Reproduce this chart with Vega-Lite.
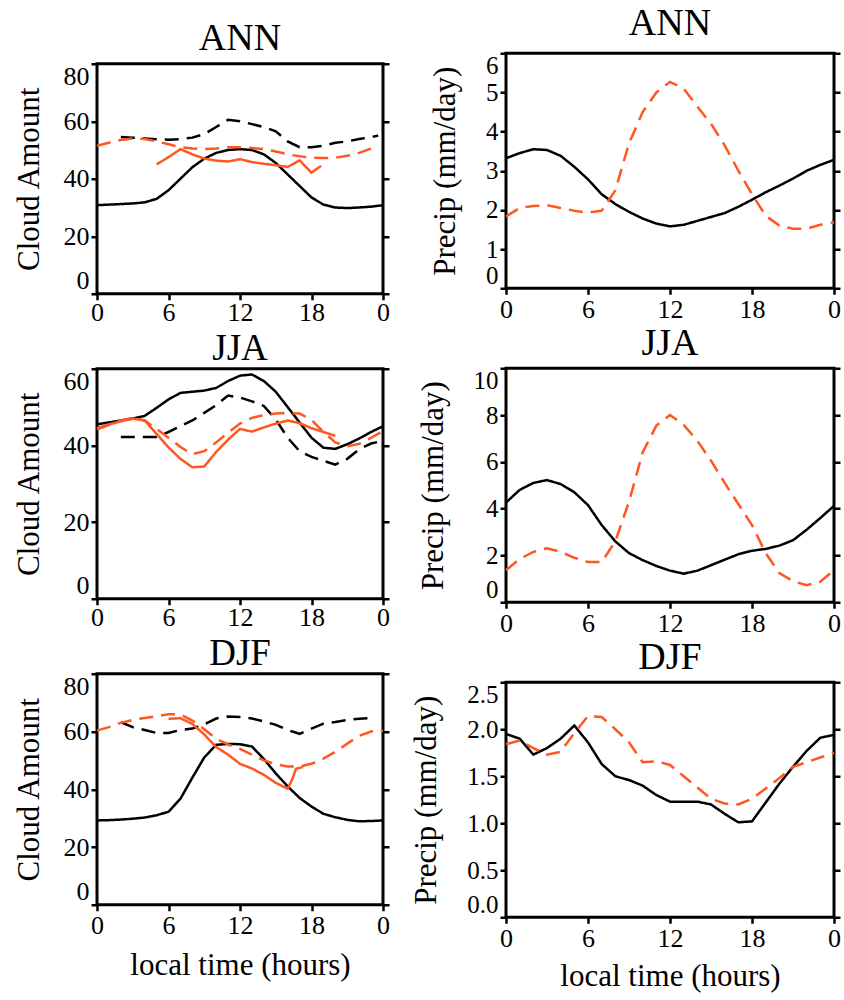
{
  "$schema": "https://vega.github.io/schema/vega-lite/v6.json",
  "padding": {"left": 11, "top": 3, "right": 4, "bottom": 2},
  "datasets": {
    "ann_cloud": [
      {"series":"black solid","hour":0,"value":30.8},{"series":"black solid","hour":1,"value":31},{"series":"black solid","hour":2,"value":31.2},{"series":"black solid","hour":3,"value":31.4},{"series":"black solid","hour":4,"value":31.8},{"series":"black solid","hour":5,"value":33},{"series":"black solid","hour":6,"value":36},{"series":"black solid","hour":7,"value":40},{"series":"black solid","hour":8,"value":44},{"series":"black solid","hour":9,"value":47},{"series":"black solid","hour":10,"value":49},{"series":"black solid","hour":11,"value":50},{"series":"black solid","hour":12,"value":50.3},{"series":"black solid","hour":13,"value":50},{"series":"black solid","hour":14,"value":48.5},{"series":"black solid","hour":15,"value":45.5},{"series":"black solid","hour":16,"value":41.5},{"series":"black solid","hour":17,"value":37.5},{"series":"black solid","hour":18,"value":33.5},{"series":"black solid","hour":19,"value":31},{"series":"black solid","hour":20,"value":30},{"series":"black solid","hour":21,"value":29.8},{"series":"black solid","hour":22,"value":30},{"series":"black solid","hour":23,"value":30.3},{"series":"black solid","hour":24,"value":30.8},
      {"series":"black dashed","hour":2,"value":54.5},{"series":"black dashed","hour":3,"value":54.3},{"series":"black dashed","hour":4,"value":54},{"series":"black dashed","hour":5,"value":53.7},{"series":"black dashed","hour":6,"value":53.6},{"series":"black dashed","hour":7,"value":53.8},{"series":"black dashed","hour":8,"value":54.3},{"series":"black dashed","hour":9,"value":55.5},{"series":"black dashed","hour":10,"value":58},{"series":"black dashed","hour":11,"value":60.5},{"series":"black dashed","hour":12,"value":60},{"series":"black dashed","hour":13,"value":59},{"series":"black dashed","hour":14,"value":58},{"series":"black dashed","hour":15,"value":56.5},{"series":"black dashed","hour":16,"value":53},{"series":"black dashed","hour":17,"value":51},{"series":"black dashed","hour":18,"value":51},{"series":"black dashed","hour":19,"value":51.5},{"series":"black dashed","hour":20,"value":52.5},{"series":"black dashed","hour":21,"value":53},{"series":"black dashed","hour":22,"value":53.8},{"series":"black dashed","hour":23,"value":54.5},{"series":"black dashed","hour":23.6,"value":55},
      {"series":"orange dashed","hour":0,"value":51.5},{"series":"orange dashed","hour":1,"value":52.5},{"series":"orange dashed","hour":2,"value":53.5},{"series":"orange dashed","hour":3,"value":54},{"series":"orange dashed","hour":4,"value":53.8},{"series":"orange dashed","hour":5,"value":53},{"series":"orange dashed","hour":6,"value":52},{"series":"orange dashed","hour":7,"value":51},{"series":"orange dashed","hour":8,"value":50.5},{"series":"orange dashed","hour":9,"value":50.3},{"series":"orange dashed","hour":10,"value":50.5},{"series":"orange dashed","hour":11,"value":51},{"series":"orange dashed","hour":12,"value":51},{"series":"orange dashed","hour":13,"value":50.7},{"series":"orange dashed","hour":14,"value":50.3},{"series":"orange dashed","hour":15,"value":49.5},{"series":"orange dashed","hour":16,"value":48.5},{"series":"orange dashed","hour":17,"value":47.8},{"series":"orange dashed","hour":18,"value":47.3},{"series":"orange dashed","hour":19,"value":47.2},{"series":"orange dashed","hour":20,"value":47.3},{"series":"orange dashed","hour":21,"value":48},{"series":"orange dashed","hour":22,"value":49},{"series":"orange dashed","hour":23,"value":50.5},{"series":"orange dashed","hour":23.5,"value":51.5},
      {"series":"orange solid","hour":5,"value":45},{"series":"orange solid","hour":6,"value":47.5},{"series":"orange solid","hour":7,"value":50.3},{"series":"orange solid","hour":8,"value":48.5},{"series":"orange solid","hour":9,"value":47},{"series":"orange solid","hour":10,"value":46.3},{"series":"orange solid","hour":11,"value":46},{"series":"orange solid","hour":12,"value":46.8},{"series":"orange solid","hour":13,"value":45.8},{"series":"orange solid","hour":14,"value":45.2},{"series":"orange solid","hour":15,"value":44.7},{"series":"orange solid","hour":16,"value":44.1},{"series":"orange solid","hour":17,"value":46.4},{"series":"orange solid","hour":18,"value":42.1},{"series":"orange solid","hour":18.8,"value":44.5}
    ],
    "ann_precip": [
      {"series":"black solid","hour":0,"value":3.32},{"series":"black solid","hour":1,"value":3.45},{"series":"black solid","hour":2,"value":3.55},{"series":"black solid","hour":3,"value":3.53},{"series":"black solid","hour":4,"value":3.38},{"series":"black solid","hour":5,"value":3.1},{"series":"black solid","hour":6,"value":2.78},{"series":"black solid","hour":7,"value":2.4},{"series":"black solid","hour":8,"value":2.15},{"series":"black solid","hour":9,"value":1.95},{"series":"black solid","hour":10,"value":1.78},{"series":"black solid","hour":11,"value":1.65},{"series":"black solid","hour":12,"value":1.58},{"series":"black solid","hour":13,"value":1.62},{"series":"black solid","hour":14,"value":1.72},{"series":"black solid","hour":15,"value":1.82},{"series":"black solid","hour":16,"value":1.92},{"series":"black solid","hour":17,"value":2.08},{"series":"black solid","hour":18,"value":2.26},{"series":"black solid","hour":19,"value":2.45},{"series":"black solid","hour":20,"value":2.62},{"series":"black solid","hour":21,"value":2.8},{"series":"black solid","hour":22,"value":3.0},{"series":"black solid","hour":23,"value":3.15},{"series":"black solid","hour":24,"value":3.28},
      {"series":"orange dashed","hour":0,"value":1.83},{"series":"orange dashed","hour":1,"value":2.05},{"series":"orange dashed","hour":2,"value":2.1},{"series":"orange dashed","hour":3,"value":2.12},{"series":"orange dashed","hour":4,"value":2.05},{"series":"orange dashed","hour":5,"value":1.98},{"series":"orange dashed","hour":6,"value":1.93},{"series":"orange dashed","hour":7,"value":1.98},{"series":"orange dashed","hour":8,"value":2.5},{"series":"orange dashed","hour":9,"value":3.7},{"series":"orange dashed","hour":10,"value":4.5},{"series":"orange dashed","hour":11,"value":5.0},{"series":"orange dashed","hour":12,"value":5.27},{"series":"orange dashed","hour":13,"value":5.1},{"series":"orange dashed","hour":14,"value":4.64},{"series":"orange dashed","hour":15,"value":4.2},{"series":"orange dashed","hour":16,"value":3.65},{"series":"orange dashed","hour":17,"value":3.0},{"series":"orange dashed","hour":18,"value":2.4},{"series":"orange dashed","hour":19,"value":1.85},{"series":"orange dashed","hour":20,"value":1.6},{"series":"orange dashed","hour":21,"value":1.52},{"series":"orange dashed","hour":22,"value":1.52},{"series":"orange dashed","hour":23,"value":1.62},{"series":"orange dashed","hour":24,"value":1.68}
    ],
    "jja_cloud": [
      {"series":"black solid","hour":0,"value":45.5},{"series":"black solid","hour":1,"value":46},{"series":"black solid","hour":2,"value":46.5},{"series":"black solid","hour":3,"value":47},{"series":"black solid","hour":4,"value":47.7},{"series":"black solid","hour":5,"value":49.8},{"series":"black solid","hour":6,"value":52},{"series":"black solid","hour":7,"value":53.7},{"series":"black solid","hour":8,"value":54},{"series":"black solid","hour":9,"value":54.3},{"series":"black solid","hour":10,"value":55},{"series":"black solid","hour":11,"value":56.8},{"series":"black solid","hour":12,"value":58.2},{"series":"black solid","hour":13,"value":58.5},{"series":"black solid","hour":14,"value":56.8},{"series":"black solid","hour":15,"value":54},{"series":"black solid","hour":16,"value":50},{"series":"black solid","hour":17,"value":46},{"series":"black solid","hour":18,"value":42},{"series":"black solid","hour":19,"value":39.4},{"series":"black solid","hour":20,"value":39.1},{"series":"black solid","hour":21,"value":40.3},{"series":"black solid","hour":22,"value":41.8},{"series":"black solid","hour":23,"value":43.5},{"series":"black solid","hour":24,"value":45},
      {"series":"black dashed","hour":2,"value":42.2},{"series":"black dashed","hour":3,"value":42.2},{"series":"black dashed","hour":4,"value":42.2},{"series":"black dashed","hour":5,"value":42.2},{"series":"black dashed","hour":6,"value":43.5},{"series":"black dashed","hour":7,"value":45},{"series":"black dashed","hour":8,"value":46.5},{"series":"black dashed","hour":9,"value":48.5},{"series":"black dashed","hour":10,"value":50.5},{"series":"black dashed","hour":11,"value":53},{"series":"black dashed","hour":12,"value":52.5},{"series":"black dashed","hour":13,"value":51.5},{"series":"black dashed","hour":14,"value":50.3},{"series":"black dashed","hour":15,"value":46.8},{"series":"black dashed","hour":16,"value":42},{"series":"black dashed","hour":17,"value":38.5},{"series":"black dashed","hour":18,"value":37},{"series":"black dashed","hour":19,"value":36},{"series":"black dashed","hour":20,"value":35},{"series":"black dashed","hour":21,"value":36.5},{"series":"black dashed","hour":22,"value":39},{"series":"black dashed","hour":23,"value":40.5},{"series":"black dashed","hour":23.7,"value":41},
      {"series":"orange dashed","hour":0,"value":44.2},{"series":"orange dashed","hour":1,"value":45.3},{"series":"orange dashed","hour":2,"value":46.5},{"series":"orange dashed","hour":3,"value":47.2},{"series":"orange dashed","hour":4,"value":46.5},{"series":"orange dashed","hour":5,"value":44.3},{"series":"orange dashed","hour":6,"value":42},{"series":"orange dashed","hour":7,"value":39.6},{"series":"orange dashed","hour":8,"value":37.7},{"series":"orange dashed","hour":9,"value":38.5},{"series":"orange dashed","hour":10,"value":40.8},{"series":"orange dashed","hour":11,"value":43.3},{"series":"orange dashed","hour":12,"value":45.7},{"series":"orange dashed","hour":13,"value":47.2},{"series":"orange dashed","hour":14,"value":47.9},{"series":"orange dashed","hour":15,"value":48.3},{"series":"orange dashed","hour":16,"value":48.5},{"series":"orange dashed","hour":17,"value":48.3},{"series":"orange dashed","hour":18,"value":46.7},{"series":"orange dashed","hour":19,"value":43.5},{"series":"orange dashed","hour":20,"value":40.8},{"series":"orange dashed","hour":21,"value":39.8},{"series":"orange dashed","hour":22,"value":40.4},{"series":"orange dashed","hour":23,"value":42},{"series":"orange dashed","hour":24,"value":43.7},
      {"series":"orange solid","hour":0,"value":44.5},{"series":"orange solid","hour":1,"value":45.5},{"series":"orange solid","hour":2,"value":46.3},{"series":"orange solid","hour":3,"value":47},{"series":"orange solid","hour":4,"value":46.5},{"series":"orange solid","hour":5,"value":43},{"series":"orange solid","hour":6,"value":39.5},{"series":"orange solid","hour":7,"value":36.5},{"series":"orange solid","hour":8,"value":34.3},{"series":"orange solid","hour":9,"value":34.5},{"series":"orange solid","hour":10,"value":38.3},{"series":"orange solid","hour":11,"value":41.5},{"series":"orange solid","hour":12,"value":44.3},{"series":"orange solid","hour":13,"value":43.6},{"series":"orange solid","hour":14,"value":44.7},{"series":"orange solid","hour":15,"value":45.7},{"series":"orange solid","hour":16,"value":46.5},{"series":"orange solid","hour":17,"value":45.8},{"series":"orange solid","hour":18,"value":44.5},{"series":"orange solid","hour":19,"value":43.5},{"series":"orange solid","hour":20,"value":42.5}
    ],
    "jja_precip": [
      {"series":"black solid","hour":0,"value":4.26},{"series":"black solid","hour":1,"value":4.8},{"series":"black solid","hour":2,"value":5.1},{"series":"black solid","hour":3,"value":5.22},{"series":"black solid","hour":4,"value":5.05},{"series":"black solid","hour":5,"value":4.7},{"series":"black solid","hour":6,"value":4.15},{"series":"black solid","hour":7,"value":3.3},{"series":"black solid","hour":8,"value":2.6},{"series":"black solid","hour":9,"value":2.1},{"series":"black solid","hour":10,"value":1.8},{"series":"black solid","hour":11,"value":1.55},{"series":"black solid","hour":12,"value":1.35},{"series":"black solid","hour":13,"value":1.22},{"series":"black solid","hour":14,"value":1.35},{"series":"black solid","hour":15,"value":1.58},{"series":"black solid","hour":16,"value":1.82},{"series":"black solid","hour":17,"value":2.05},{"series":"black solid","hour":18,"value":2.2},{"series":"black solid","hour":19,"value":2.28},{"series":"black solid","hour":20,"value":2.42},{"series":"black solid","hour":21,"value":2.65},{"series":"black solid","hour":22,"value":3.1},{"series":"black solid","hour":23,"value":3.6},{"series":"black solid","hour":24,"value":4.12},
      {"series":"orange dashed","hour":0,"value":1.37},{"series":"orange dashed","hour":1,"value":1.85},{"series":"orange dashed","hour":2,"value":2.15},{"series":"orange dashed","hour":3,"value":2.31},{"series":"orange dashed","hour":4,"value":2.15},{"series":"orange dashed","hour":5,"value":1.9},{"series":"orange dashed","hour":6,"value":1.72},{"series":"orange dashed","hour":7,"value":1.72},{"series":"orange dashed","hour":8,"value":2.6},{"series":"orange dashed","hour":9,"value":4.3},{"series":"orange dashed","hour":10,"value":6.4},{"series":"orange dashed","hour":11,"value":7.55},{"series":"orange dashed","hour":12,"value":8.0},{"series":"orange dashed","hour":13,"value":7.58},{"series":"orange dashed","hour":14,"value":6.9},{"series":"orange dashed","hour":15,"value":6.05},{"series":"orange dashed","hour":16,"value":5.1},{"series":"orange dashed","hour":17,"value":4.2},{"series":"orange dashed","hour":18,"value":3.3},{"series":"orange dashed","hour":19,"value":2.1},{"series":"orange dashed","hour":20,"value":1.25},{"series":"orange dashed","hour":21,"value":0.9},{"series":"orange dashed","hour":22,"value":0.73},{"series":"orange dashed","hour":23,"value":0.88},{"series":"orange dashed","hour":24,"value":1.37}
    ],
    "djf_cloud": [
      {"series":"black solid","hour":0,"value":29.2},{"series":"black solid","hour":1,"value":29.3},{"series":"black solid","hour":2,"value":29.5},{"series":"black solid","hour":3,"value":29.8},{"series":"black solid","hour":4,"value":30.2},{"series":"black solid","hour":5,"value":31},{"series":"black solid","hour":6,"value":32.2},{"series":"black solid","hour":7,"value":36.7},{"series":"black solid","hour":8,"value":44},{"series":"black solid","hour":9,"value":51},{"series":"black solid","hour":10,"value":55.4},{"series":"black solid","hour":11,"value":55.7},{"series":"black solid","hour":12,"value":55.6},{"series":"black solid","hour":13,"value":54.8},{"series":"black solid","hour":14,"value":50.5},{"series":"black solid","hour":15,"value":45.5},{"series":"black solid","hour":16,"value":41},{"series":"black solid","hour":17,"value":37},{"series":"black solid","hour":18,"value":34},{"series":"black solid","hour":19,"value":31.5},{"series":"black solid","hour":20,"value":30.3},{"series":"black solid","hour":21,"value":29.4},{"series":"black solid","hour":22,"value":28.9},{"series":"black solid","hour":23,"value":29},{"series":"black solid","hour":24,"value":29.2},
      {"series":"black dashed","hour":2,"value":63.2},{"series":"black dashed","hour":3,"value":61.5},{"series":"black dashed","hour":4,"value":60.5},{"series":"black dashed","hour":5,"value":59.5},{"series":"black dashed","hour":6,"value":59.5},{"series":"black dashed","hour":7,"value":60.5},{"series":"black dashed","hour":8,"value":61},{"series":"black dashed","hour":9,"value":62.5},{"series":"black dashed","hour":10,"value":64.5},{"series":"black dashed","hour":11,"value":65.2},{"series":"black dashed","hour":12,"value":65},{"series":"black dashed","hour":13,"value":64.5},{"series":"black dashed","hour":14,"value":63.5},{"series":"black dashed","hour":15,"value":62.3},{"series":"black dashed","hour":16,"value":60.5},{"series":"black dashed","hour":17,"value":59.2},{"series":"black dashed","hour":18,"value":61},{"series":"black dashed","hour":19,"value":62.7},{"series":"black dashed","hour":20,"value":63.3},{"series":"black dashed","hour":21,"value":64},{"series":"black dashed","hour":22,"value":64.4},{"series":"black dashed","hour":23,"value":64.7},
      {"series":"orange dashed","hour":0,"value":60.3},{"series":"orange dashed","hour":1,"value":61.5},{"series":"orange dashed","hour":2,"value":63},{"series":"orange dashed","hour":3,"value":64},{"series":"orange dashed","hour":4,"value":64.7},{"series":"orange dashed","hour":5,"value":65.3},{"series":"orange dashed","hour":6,"value":66},{"series":"orange dashed","hour":7,"value":65.9},{"series":"orange dashed","hour":8,"value":63.8},{"series":"orange dashed","hour":9,"value":60.8},{"series":"orange dashed","hour":10,"value":57.5},{"series":"orange dashed","hour":11,"value":55.5},{"series":"orange dashed","hour":12,"value":54},{"series":"orange dashed","hour":13,"value":52},{"series":"orange dashed","hour":14,"value":50},{"series":"orange dashed","hour":15,"value":48.7},{"series":"orange dashed","hour":16,"value":47.9},{"series":"orange dashed","hour":17,"value":47.9},{"series":"orange dashed","hour":18,"value":48.8},{"series":"orange dashed","hour":19,"value":50.6},{"series":"orange dashed","hour":20,"value":53},{"series":"orange dashed","hour":21,"value":55.8},{"series":"orange dashed","hour":22,"value":58.5},{"series":"orange dashed","hour":23,"value":60},{"series":"orange dashed","hour":24,"value":60.3},
      {"series":"orange solid","hour":6,"value":64.4},{"series":"orange solid","hour":7,"value":64.6},{"series":"orange solid","hour":8,"value":62.6},{"series":"orange solid","hour":9,"value":59},{"series":"orange solid","hour":10,"value":54.6},{"series":"orange solid","hour":11,"value":52},{"series":"orange solid","hour":12,"value":48.8},{"series":"orange solid","hour":13,"value":47.2},{"series":"orange solid","hour":14,"value":45},{"series":"orange solid","hour":15,"value":42.2},{"series":"orange solid","hour":16,"value":40.2},{"series":"orange solid","hour":16.4,"value":43.6},{"series":"orange solid","hour":16.7,"value":47.1},{"series":"orange solid","hour":17.3,"value":47.7}
    ],
    "djf_precip": [
      {"series":"black solid","hour":0,"value":1.95},{"series":"black solid","hour":1,"value":1.9},{"series":"black solid","hour":2,"value":1.73},{"series":"black solid","hour":3,"value":1.8},{"series":"black solid","hour":4,"value":1.9},{"series":"black solid","hour":5,"value":2.04},{"series":"black solid","hour":6,"value":1.86},{"series":"black solid","hour":7,"value":1.63},{"series":"black solid","hour":8,"value":1.5},{"series":"black solid","hour":9,"value":1.46},{"series":"black solid","hour":10,"value":1.4},{"series":"black solid","hour":11,"value":1.3},{"series":"black solid","hour":12,"value":1.23},{"series":"black solid","hour":13,"value":1.23},{"series":"black solid","hour":14,"value":1.23},{"series":"black solid","hour":15,"value":1.2},{"series":"black solid","hour":16,"value":1.1},{"series":"black solid","hour":17,"value":1.01},{"series":"black solid","hour":18,"value":1.02},{"series":"black solid","hour":19,"value":1.22},{"series":"black solid","hour":20,"value":1.42},{"series":"black solid","hour":21,"value":1.6},{"series":"black solid","hour":22,"value":1.77},{"series":"black solid","hour":23,"value":1.91},{"series":"black solid","hour":24,"value":1.94},
      {"series":"orange dashed","hour":0,"value":1.84},{"series":"orange dashed","hour":1,"value":1.88},{"series":"orange dashed","hour":2,"value":1.8},{"series":"orange dashed","hour":3,"value":1.73},{"series":"orange dashed","hour":4,"value":1.76},{"series":"orange dashed","hour":5,"value":1.96},{"series":"orange dashed","hour":6,"value":2.14},{"series":"orange dashed","hour":7,"value":2.13},{"series":"orange dashed","hour":8,"value":2.0},{"series":"orange dashed","hour":9,"value":1.86},{"series":"orange dashed","hour":10,"value":1.65},{"series":"orange dashed","hour":11,"value":1.66},{"series":"orange dashed","hour":12,"value":1.62},{"series":"orange dashed","hour":13,"value":1.5},{"series":"orange dashed","hour":14,"value":1.38},{"series":"orange dashed","hour":15,"value":1.26},{"series":"orange dashed","hour":16,"value":1.21},{"series":"orange dashed","hour":17,"value":1.2},{"series":"orange dashed","hour":18,"value":1.26},{"series":"orange dashed","hour":19,"value":1.37},{"series":"orange dashed","hour":20,"value":1.48},{"series":"orange dashed","hour":21,"value":1.6},{"series":"orange dashed","hour":22,"value":1.65},{"series":"orange dashed","hour":23,"value":1.7},{"series":"orange dashed","hour":24,"value":1.75}
    ]
  },
  "spacing": 17,
  "center": true,
  "hconcat": [
    {
      "spacing": 0,
      "vconcat": [
        {
          "width": 286, "height": 230,
          "title": {"text": "ANN", "offset": 5},
          "data": {"name": "ann_cloud"},
          "layer": [
            {"mark": {"type": "line", "strokeWidth": 2.5},
             "encoding": {
               "x": {"field": "hour", "type": "quantitative", "scale": {"domain": [0, 24], "nice": false}, "axis": {"values": [0, 6, 12, 18, 24], "labelExpr": "datum.value == 24 ? '0' : datum.label", "title": null, "labelFlush": false, "labelPadding": 0}},
               "y": {"field": "value", "type": "quantitative", "scale": {"domain": [0, 80], "nice": false}, "axis": {"values": [0, 20, 40, 60, 80], "title": "Cloud Amount", "titlePadding": 18, "labelFlush": true, "labelOverlap": false}},
               "color": {"field": "series", "type": "nominal", "scale": {"domain": ["black solid", "black dashed", "orange solid", "orange dashed"], "range": ["#000000", "#000000", "#ff5722", "#ff5722"]}, "legend": null},
               "strokeDash": {"field": "series", "type": "nominal", "scale": {"domain": ["black solid", "black dashed", "orange solid", "orange dashed"], "range": [[1, 0], [14, 8], [1, 0], [14, 8]]}, "legend": null}
             }},
            {"mark": {"type": "line", "opacity": 0},
             "encoding": {
               "x": {"field": "hour", "type": "quantitative", "scale": {"domain": [0, 24], "nice": false}, "axis": {"values": [0, 6, 12, 18, 24], "labelExpr": "datum.value == 24 ? '0' : datum.label", "title": null, "labelFlush": false, "labelPadding": 0}},
               "y": {"field": "value", "type": "quantitative", "axis": {"orient": "right", "values": [0, 20, 40, 60, 80], "labels": false, "title": null}},
               "detail": {"field": "series"}
             }}
          ],
          "resolve": {"axis": {"y": "independent"}}
        },
        {
          "width": 286, "height": 230,
          "title": {"text": "JJA", "offset": 0, "fontSize": 37},
          "data": {"name": "jja_cloud"},
          "layer": [
            {"mark": {"type": "line", "strokeWidth": 2.5},
             "encoding": {
               "x": {"field": "hour", "type": "quantitative", "scale": {"domain": [0, 24], "nice": false}, "axis": {"values": [0, 6, 12, 18, 24], "labelExpr": "datum.value == 24 ? '0' : datum.label", "title": null, "labelFlush": false, "labelPadding": 0}},
               "y": {"field": "value", "type": "quantitative", "scale": {"domain": [0, 60], "nice": false}, "axis": {"values": [0, 20, 40, 60], "title": "Cloud Amount", "titlePadding": 18, "labelFlush": true, "labelOverlap": false}},
               "color": {"field": "series", "type": "nominal", "scale": {"domain": ["black solid", "black dashed", "orange solid", "orange dashed"], "range": ["#000000", "#000000", "#ff5722", "#ff5722"]}, "legend": null},
               "strokeDash": {"field": "series", "type": "nominal", "scale": {"domain": ["black solid", "black dashed", "orange solid", "orange dashed"], "range": [[1, 0], [14, 8], [1, 0], [14, 8]]}, "legend": null}
             }},
            {"mark": {"type": "line", "opacity": 0},
             "encoding": {
               "x": {"field": "hour", "type": "quantitative", "scale": {"domain": [0, 24], "nice": false}, "axis": {"values": [0, 6, 12, 18, 24], "labelExpr": "datum.value == 24 ? '0' : datum.label", "title": null, "labelFlush": false, "labelPadding": 0}},
               "y": {"field": "value", "type": "quantitative", "axis": {"orient": "right", "values": [0, 20, 40, 60], "labels": false, "title": null}},
               "detail": {"field": "series"}
             }}
          ],
          "resolve": {"axis": {"y": "independent"}}
        },
        {
          "width": 286, "height": 231,
          "title": {"text": "DJF", "offset": 0, "fontSize": 37},
          "data": {"name": "djf_cloud"},
          "layer": [
            {"mark": {"type": "line", "strokeWidth": 2.5},
             "encoding": {
               "x": {"field": "hour", "type": "quantitative", "scale": {"domain": [0, 24], "nice": false}, "axis": {"values": [0, 6, 12, 18, 24], "labelExpr": "datum.value == 24 ? '0' : datum.label", "title": "local time (hours)", "labelFlush": false, "labelPadding": 2, "titlePadding": 12}},
               "y": {"field": "value", "type": "quantitative", "scale": {"domain": [0, 80], "nice": false}, "axis": {"values": [0, 20, 40, 60, 80], "title": "Cloud Amount", "titlePadding": 18, "labelFlush": true, "labelOverlap": false}},
               "color": {"field": "series", "type": "nominal", "scale": {"domain": ["black solid", "black dashed", "orange solid", "orange dashed"], "range": ["#000000", "#000000", "#ff5722", "#ff5722"]}, "legend": null},
               "strokeDash": {"field": "series", "type": "nominal", "scale": {"domain": ["black solid", "black dashed", "orange solid", "orange dashed"], "range": [[1, 0], [14, 8], [1, 0], [14, 8]]}, "legend": null}
             }},
            {"mark": {"type": "line", "opacity": 0},
             "encoding": {
               "x": {"field": "hour", "type": "quantitative", "scale": {"domain": [0, 24], "nice": false}, "axis": {"values": [0, 6, 12, 18, 24], "labelExpr": "datum.value == 24 ? '0' : datum.label", "title": "local time (hours)", "labelFlush": false, "labelPadding": 2, "titlePadding": 12}},
               "y": {"field": "value", "type": "quantitative", "axis": {"orient": "right", "values": [0, 20, 40, 60, 80], "labels": false, "title": null}},
               "detail": {"field": "series"}
             }}
          ],
          "resolve": {"axis": {"y": "independent"}}
        }
      ]
    },
    {
      "spacing": -1,
      "vconcat": [
        {
          "width": 328, "height": 235,
          "title": {"text": "ANN", "offset": 9},
          "data": {"name": "ann_precip"},
          "layer": [
            {"mark": {"type": "line", "strokeWidth": 2.5},
             "encoding": {
               "x": {"field": "hour", "type": "quantitative", "scale": {"domain": [0, 24], "nice": false}, "axis": {"values": [0, 6, 12, 18, 24], "labelExpr": "datum.value == 24 ? '0' : datum.label", "title": null, "labelFlush": false}},
               "y": {"field": "value", "type": "quantitative", "scale": {"domain": [0, 6], "nice": false}, "axis": {"values": [0, 1, 2, 3, 4, 5, 6], "title": "Precip (mm/day)", "titlePadding": 24, "labelFontSize": 25, "labelFlush": true, "labelOverlap": false}},
               "color": {"field": "series", "type": "nominal", "scale": {"domain": ["black solid", "black dashed", "orange solid", "orange dashed"], "range": ["#000000", "#000000", "#ff5722", "#ff5722"]}, "legend": null},
               "strokeDash": {"field": "series", "type": "nominal", "scale": {"domain": ["black solid", "black dashed", "orange solid", "orange dashed"], "range": [[1, 0], [14, 8], [1, 0], [14, 8]]}, "legend": null}
             }},
            {"mark": {"type": "line", "opacity": 0},
             "encoding": {
               "x": {"field": "hour", "type": "quantitative", "scale": {"domain": [0, 24], "nice": false}, "axis": {"values": [0, 6, 12, 18, 24], "labelExpr": "datum.value == 24 ? '0' : datum.label", "title": null, "labelFlush": false}},
               "y": {"field": "value", "type": "quantitative", "axis": {"orient": "right", "values": [0, 1, 2, 3, 4, 5, 6], "labels": false, "title": null}},
               "detail": {"field": "series"}
             }}
          ],
          "resolve": {"axis": {"y": "independent"}}
        },
        {
          "width": 328, "height": 234,
          "title": {"text": "JJA", "offset": 4},
          "data": {"name": "jja_precip"},
          "layer": [
            {"mark": {"type": "line", "strokeWidth": 2.5},
             "encoding": {
               "x": {"field": "hour", "type": "quantitative", "scale": {"domain": [0, 24], "nice": false}, "axis": {"values": [0, 6, 12, 18, 24], "labelExpr": "datum.value == 24 ? '0' : datum.label", "title": null, "labelFlush": false}},
               "y": {"field": "value", "type": "quantitative", "scale": {"domain": [0, 10], "nice": false}, "axis": {"values": [0, 2, 4, 6, 8, 10], "title": "Precip (mm/day)", "titlePadding": 24, "labelFontSize": 25, "labelFlush": true, "labelOverlap": false}},
               "color": {"field": "series", "type": "nominal", "scale": {"domain": ["black solid", "black dashed", "orange solid", "orange dashed"], "range": ["#000000", "#000000", "#ff5722", "#ff5722"]}, "legend": null},
               "strokeDash": {"field": "series", "type": "nominal", "scale": {"domain": ["black solid", "black dashed", "orange solid", "orange dashed"], "range": [[1, 0], [14, 8], [1, 0], [14, 8]]}, "legend": null}
             }},
            {"mark": {"type": "line", "opacity": 0},
             "encoding": {
               "x": {"field": "hour", "type": "quantitative", "scale": {"domain": [0, 24], "nice": false}, "axis": {"values": [0, 6, 12, 18, 24], "labelExpr": "datum.value == 24 ? '0' : datum.label", "title": null, "labelFlush": false}},
               "y": {"field": "value", "type": "quantitative", "axis": {"orient": "right", "values": [0, 2, 4, 6, 8, 10], "labels": false, "title": null}},
               "detail": {"field": "series"}
             }}
          ],
          "resolve": {"axis": {"y": "independent"}}
        },
        {
          "width": 328, "height": 235,
          "title": {"text": "DJF", "offset": 4},
          "data": {"name": "djf_precip"},
          "layer": [
            {"mark": {"type": "line", "strokeWidth": 2.5},
             "encoding": {
               "x": {"field": "hour", "type": "quantitative", "scale": {"domain": [0, 24], "nice": false}, "axis": {"values": [0, 6, 12, 18, 24], "labelExpr": "datum.value == 24 ? '0' : datum.label", "title": "local time (hours)", "labelFlush": false, "titlePadding": 10}},
               "y": {"field": "value", "type": "quantitative", "scale": {"domain": [0, 2.5], "nice": false}, "axis": {"values": [0, 0.5, 1, 1.5, 2, 2.5], "format": ".1f", "title": "Precip (mm/day)", "titlePadding": 24, "labelFontSize": 25, "labelFlush": true, "labelOverlap": false}},
               "color": {"field": "series", "type": "nominal", "scale": {"domain": ["black solid", "black dashed", "orange solid", "orange dashed"], "range": ["#000000", "#000000", "#ff5722", "#ff5722"]}, "legend": null},
               "strokeDash": {"field": "series", "type": "nominal", "scale": {"domain": ["black solid", "black dashed", "orange solid", "orange dashed"], "range": [[1, 0], [14, 8], [1, 0], [14, 8]]}, "legend": null}
             }},
            {"mark": {"type": "line", "opacity": 0},
             "encoding": {
               "x": {"field": "hour", "type": "quantitative", "scale": {"domain": [0, 24], "nice": false}, "axis": {"values": [0, 6, 12, 18, 24], "labelExpr": "datum.value == 24 ? '0' : datum.label", "title": "local time (hours)", "labelFlush": false, "titlePadding": 10}},
               "y": {"field": "value", "type": "quantitative", "axis": {"orient": "right", "values": [0, 0.5, 1, 1.5, 2, 2.5], "labels": false, "title": null}},
               "detail": {"field": "series"}
             }}
          ],
          "resolve": {"axis": {"y": "independent"}}
        }
      ]
    }
  ],
  "config": {
    "font": "Liberation Serif",
    "background": "white",
    "view": {"stroke": "black", "strokeWidth": 3},
    "axis": {
      "labelFont": "Liberation Serif", "titleFont": "Liberation Serif",
      "labelColor": "black", "titleColor": "black",
      "labelFontSize": 26, "titleFontSize": 31, "titleFontWeight": "normal",
      "grid": false, "domain": false,
      "tickColor": "black", "tickWidth": 2.5, "tickSize": 6,
      "labelPadding": 2, "titlePadding": 10
    },
    "title": {"font": "Liberation Serif", "fontSize": 38, "fontWeight": "normal", "color": "black"}
  }
}
